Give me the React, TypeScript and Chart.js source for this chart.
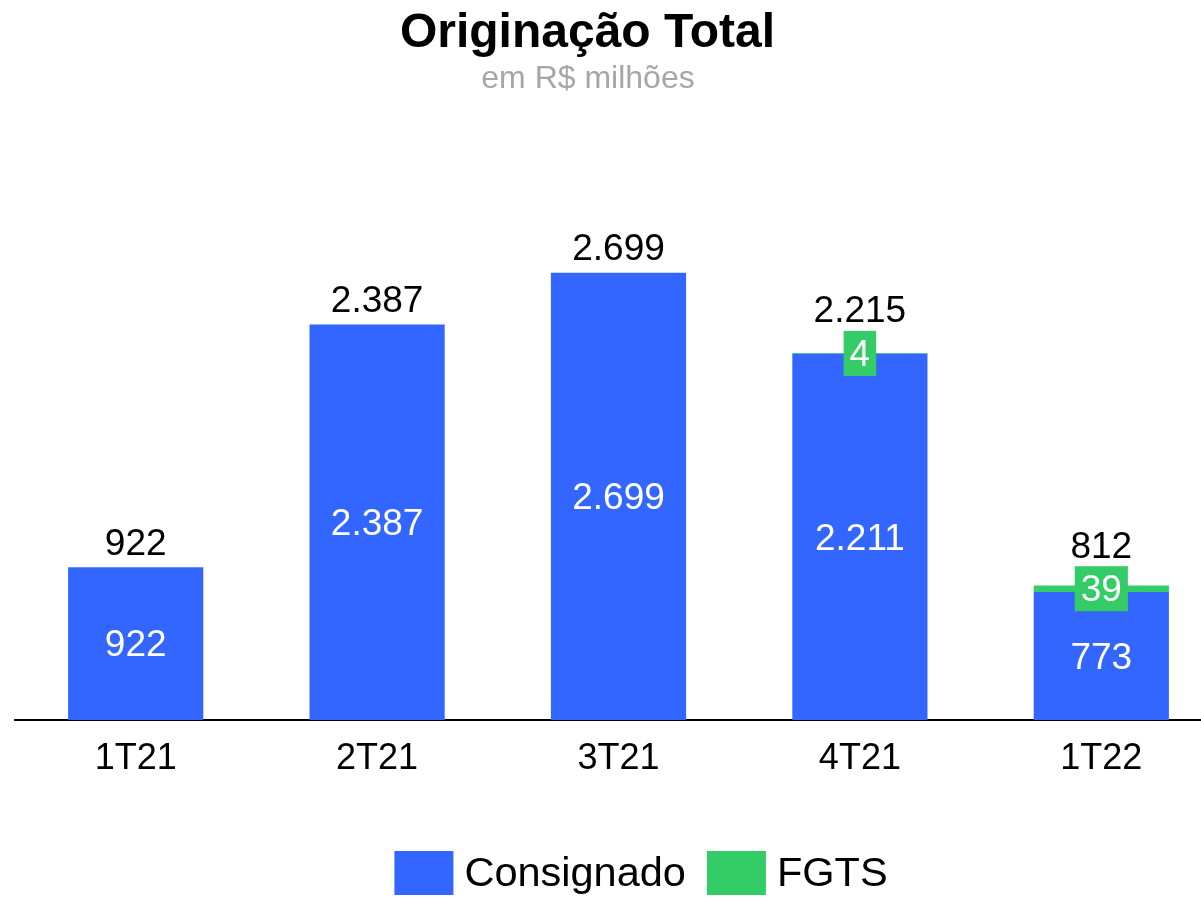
import React, { useEffect, useRef } from "react";
import { Chart, registerables } from "chart.js";

Chart.register(...registerables);

const TITLE = "Originação Total";
const SUBTITLE = "em R$ milhões";
const categories = ["1T21", "2T21", "3T21", "4T21", "1T22"];
const consignado = [922, 2387, 2699, 2211, 773];
const fgts = [0, 0, 0, 4, 39];
const seriesNames = ["Consignado", "FGTS"];
const BLUE = "#3366ff";
const GREEN = "#33cc66";
const FONT = "'Liberation Sans', Arial, sans-serif";

const fmt = (n: number) => String(n).replace(/\B(?=(\d{3})+(?!\d))/g, ".");

const labelsPlugin = {
  id: "customLabels",
  afterDatasetsDraw(chart: any) {
    const ctx = chart.ctx as CanvasRenderingContext2D;
    const y = chart.scales.y;
    const m0 = chart.getDatasetMeta(0);
    ctx.save();
    ctx.font = `37px ${FONT}`;
    ctx.textAlign = "center";
    categories.forEach((_, i) => {
      const bar = m0.data[i];
      const x = bar.x;
      const base = y.getPixelForValue(0);
      const blueTop = y.getPixelForValue(consignado[i]);
      const total = consignado[i] + fgts[i];
      const totalTop = y.getPixelForValue(total);
      ctx.fillStyle = "#ffffff";
      ctx.textBaseline = "middle";
      ctx.fillText(fmt(consignado[i]), x, (base + blueTop) / 2 + 2.5);
      let anchor = totalTop - 12.5;
      if (fgts[i] > 0) {
        const cy = (blueTop + totalTop) / 2;
        const t = fmt(fgts[i]);
        const w = ctx.measureText(t).width + 12;
        const h = 45;
        ctx.fillStyle = GREEN;
        ctx.fillRect(x - w / 2, cy - h / 2, w, h);
        ctx.fillStyle = "#ffffff";
        ctx.fillText(t, x, cy + 2);
        anchor = cy - h / 2 - 8.5;
      }
      ctx.fillStyle = "#000000";
      ctx.textBaseline = "alphabetic";
      ctx.fillText(fmt(total), x, anchor);
    });
    ctx.restore();
  },
};

const headerLegendPlugin = {
  id: "headerLegend",
  afterDraw(chart: any) {
    const ctx = chart.ctx as CanvasRenderingContext2D;
    ctx.save();
    ctx.textAlign = "center";
    ctx.textBaseline = "alphabetic";
    ctx.fillStyle = "#000000";
    ctx.font = `bold 48px ${FONT}`;
    ctx.fillText(TITLE, 587.5, 47);
    ctx.fillStyle = "#a6a6a6";
    ctx.font = `32px ${FONT}`;
    ctx.fillText(SUBTITLE, 588, 88);

    ctx.font = `41.5px ${FONT}`;
    const items = chart.data.datasets.map((d: any) => ({ label: d.label, color: d.backgroundColor }));
    const boxW = 59, boxH = 44, gapText = 11, gapItem = 21;
    const widths = items.map((it: any) => boxW + gapText + ctx.measureText(it.label).width);
    const total = widths.reduce((a: number, b: number) => a + b, 0) + gapItem * (items.length - 1);
    let x = 641 - total / 2;
    ctx.textAlign = "left";
    items.forEach((it: any, i: number) => {
      ctx.fillStyle = it.color;
      ctx.fillRect(x, 851, boxW, boxH);
      ctx.fillStyle = "#000000";
      ctx.fillText(it.label, x + boxW + gapText, 886);
      x += widths[i] + gapItem;
    });
    ctx.restore();
  },
};

export default function App() {
  const ref = useRef<HTMLCanvasElement>(null);
  useEffect(() => {
    if (!ref.current) return;
    const chart = new Chart(ref.current, {
      type: "bar",
      data: {
        labels: categories,
        datasets: [
          { label: seriesNames[0], data: consignado, backgroundColor: BLUE, barPercentage: 0.56, categoryPercentage: 1 },
          { label: seriesNames[1], data: fgts, backgroundColor: GREEN, barPercentage: 0.56, categoryPercentage: 1 },
        ],
      },
      options: {
        responsive: false,
        animation: false,
        devicePixelRatio: 1,
        layout: { padding: { top: 223, bottom: 101.8, left: 15, right: 0 } },
        plugins: {
          legend: { display: false },
          title: { display: false },
          tooltip: { enabled: false },
        },
        scales: {
          x: {
            stacked: true,
            grid: { display: false, drawTicks: false },
            border: { display: true, color: "#000000", width: 2 },
            ticks: { color: "#000000", font: { family: FONT, size: 36 }, padding: 17 },
          },
          y: {
            stacked: true,
            display: false,
            min: 0,
            max: 3000,
          },
        },
      },
      plugins: [labelsPlugin, headerLegendPlugin],
    });
    return () => chart.destroy();
  }, []);
  return (
    <div style={{ position: "absolute", top: 0, left: 0, width: 1201, height: 899, overflow: "hidden", background: "#fff" }}>
      <canvas ref={ref} width={1222} height={899} style={{ display: "block" }} />
    </div>
  );
}
